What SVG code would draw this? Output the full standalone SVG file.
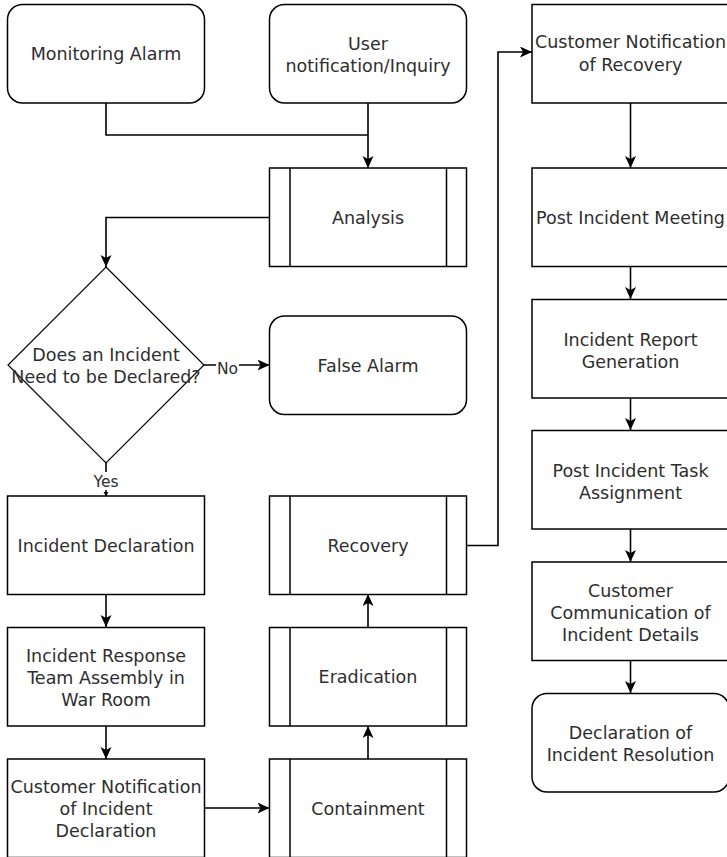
<svg xmlns="http://www.w3.org/2000/svg" width="727" height="857" viewBox="0 0 727 857">
<style>
.box{fill:#fff;stroke:#000;stroke-width:1.5}
.in{fill:none;stroke:#000;stroke-width:1.5}
.edge{fill:none;stroke:#000;stroke-width:1.6}
text{font-family:"DejaVu Sans","Liberation Sans",sans-serif;font-size:17.5px;fill:#2e2e2e;text-anchor:middle}
.lbl{font-size:15.5px;fill:#2e2e2e}
</style>
<defs>
<marker id="arr" markerUnits="userSpaceOnUse" markerWidth="13" markerHeight="12" refX="12" refY="5.5" orient="auto">
<path d="M0,0 L12,5.5 L0,11 L3,5.5 Z" fill="#000"/>
</marker>
<marker id="arrs" markerUnits="userSpaceOnUse" markerWidth="6" markerHeight="6" refX="4" refY="2.5" orient="auto">
<path d="M0,0 L4,2.5 L0,5 Z" fill="#000"/>
</marker>
</defs>
<rect width="727" height="857" fill="#fff"/>
<g id="edges">
<path class="edge" d="M106,103 V135 H368"/>
<path class="edge" d="M368,103 V168" marker-end="url(#arr)"/>
<path class="edge" d="M269.5,217.5 H106 V267" marker-end="url(#arr)"/>
<path class="edge" d="M204,365 H269.5" marker-end="url(#arr)"/>
<path class="edge" d="M106,463 V496" marker-end="url(#arrs)"/>
<path class="edge" d="M106,594 V627" marker-end="url(#arr)"/>
<path class="edge" d="M106,726 V759" marker-end="url(#arr)"/>
<path class="edge" d="M204,808 H269.5" marker-end="url(#arr)"/>
<path class="edge" d="M368,759 V726" marker-end="url(#arr)"/>
<path class="edge" d="M368,627 V594" marker-end="url(#arr)"/>
<path class="edge" d="M466.5,545.5 H498 V52 H532" marker-end="url(#arr)"/>
<path class="edge" d="M630.5,103 V168" marker-end="url(#arr)"/>
<path class="edge" d="M630.5,267 V299" marker-end="url(#arr)"/>
<path class="edge" d="M630.5,398 V430" marker-end="url(#arr)"/>
<path class="edge" d="M630.5,529 V562" marker-end="url(#arr)"/>
<path class="edge" d="M630.5,660 V693" marker-end="url(#arr)"/>
<rect x="216" y="359" width="23" height="17" fill="#fff"/>
<text class="lbl" x="227.5" y="374">No</text>
<rect x="92" y="472" width="28" height="18" fill="#fff"/>
<text class="lbl" x="106" y="487">Yes</text>
</g>
<g id="monitoring-alarm">
<rect class="box" x="7.5" y="4.5" width="197" height="98.5" rx="15"/>
<text x="106" y="60">Monitoring Alarm</text>
</g>
<g id="user-notification">
<rect class="box" x="269.5" y="4.5" width="197" height="98.5" rx="15"/>
<text x="368" y="50">User</text>
<text x="368" y="72">notification/Inquiry</text>
</g>
<g id="analysis">
<rect class="box" x="269.5" y="168" width="197" height="98.5"/>
<path class="in" d="M290,168 V266.5 M446.5,168 V266.5"/>
<text x="368" y="224">Analysis</text>
</g>
<g id="decision">
<path class="box" d="M106,267 L204,365 L106,463 L8,365 Z" style="stroke-width:1.2"/>
<text x="106" y="361">Does an Incident</text>
<text x="106" y="383">Need to be Declared?</text>
</g>
<g id="false-alarm">
<rect class="box" x="269.5" y="316" width="197" height="98.5" rx="15"/>
<text x="368" y="371.5">False Alarm</text>
</g>
<g id="incident-declaration">
<rect class="box" x="7.5" y="496" width="197" height="98.5"/>
<text x="106" y="552">Incident Declaration</text>
</g>
<g id="team-assembly">
<rect class="box" x="7.5" y="627.5" width="197" height="98.5"/>
<text x="106" y="661.5">Incident Response</text>
<text x="106" y="683.5">Team Assembly in</text>
<text x="106" y="705.5">War Room</text>
</g>
<g id="customer-notification-declaration">
<rect class="box" x="7.5" y="759" width="197" height="98.5"/>
<text x="106" y="792.5">Customer Notification</text>
<text x="106" y="814.5">of Incident</text>
<text x="106" y="836.5">Declaration</text>
</g>
<g id="recovery">
<rect class="box" x="269.5" y="496" width="197" height="98.5"/>
<path class="in" d="M290,496 V594.5 M446.5,496 V594.5"/>
<text x="368" y="552">Recovery</text>
</g>
<g id="eradication">
<rect class="box" x="269.5" y="627.5" width="197" height="98.5"/>
<path class="in" d="M290,627.5 V726 M446.5,627.5 V726"/>
<text x="368" y="683">Eradication</text>
</g>
<g id="containment">
<rect class="box" x="269.5" y="759" width="197" height="98.5"/>
<path class="in" d="M290,759 V857.5 M446.5,759 V857.5"/>
<text x="368" y="814.5">Containment</text>
</g>
<g id="customer-notification-recovery">
<rect class="box" x="532" y="4.5" width="197" height="98.5"/>
<text x="630.5" y="48">Customer Notification</text>
<text x="630.5" y="71">of Recovery</text>
</g>
<g id="post-incident-meeting">
<rect class="box" x="532" y="168" width="197" height="98.5"/>
<text x="630.5" y="224">Post Incident Meeting</text>
</g>
<g id="incident-report">
<rect class="box" x="532" y="299.5" width="197" height="98.5"/>
<text x="630.5" y="346">Incident Report</text>
<text x="630.5" y="368">Generation</text>
</g>
<g id="task-assignment">
<rect class="box" x="532" y="430.5" width="197" height="98.5"/>
<text x="630.5" y="476.5">Post Incident Task</text>
<text x="630.5" y="498.5">Assignment</text>
</g>
<g id="customer-communication">
<rect class="box" x="532" y="562" width="197" height="98.5"/>
<text x="630.5" y="596.5">Customer</text>
<text x="630.5" y="618.5">Communication of</text>
<text x="630.5" y="640.5">Incident Details</text>
</g>
<g id="resolution">
<rect class="box" x="532" y="693.5" width="197" height="98.5" rx="15"/>
<text x="630.5" y="739">Declaration of</text>
<text x="630.5" y="761">Incident Resolution</text>
</g>
</svg>
